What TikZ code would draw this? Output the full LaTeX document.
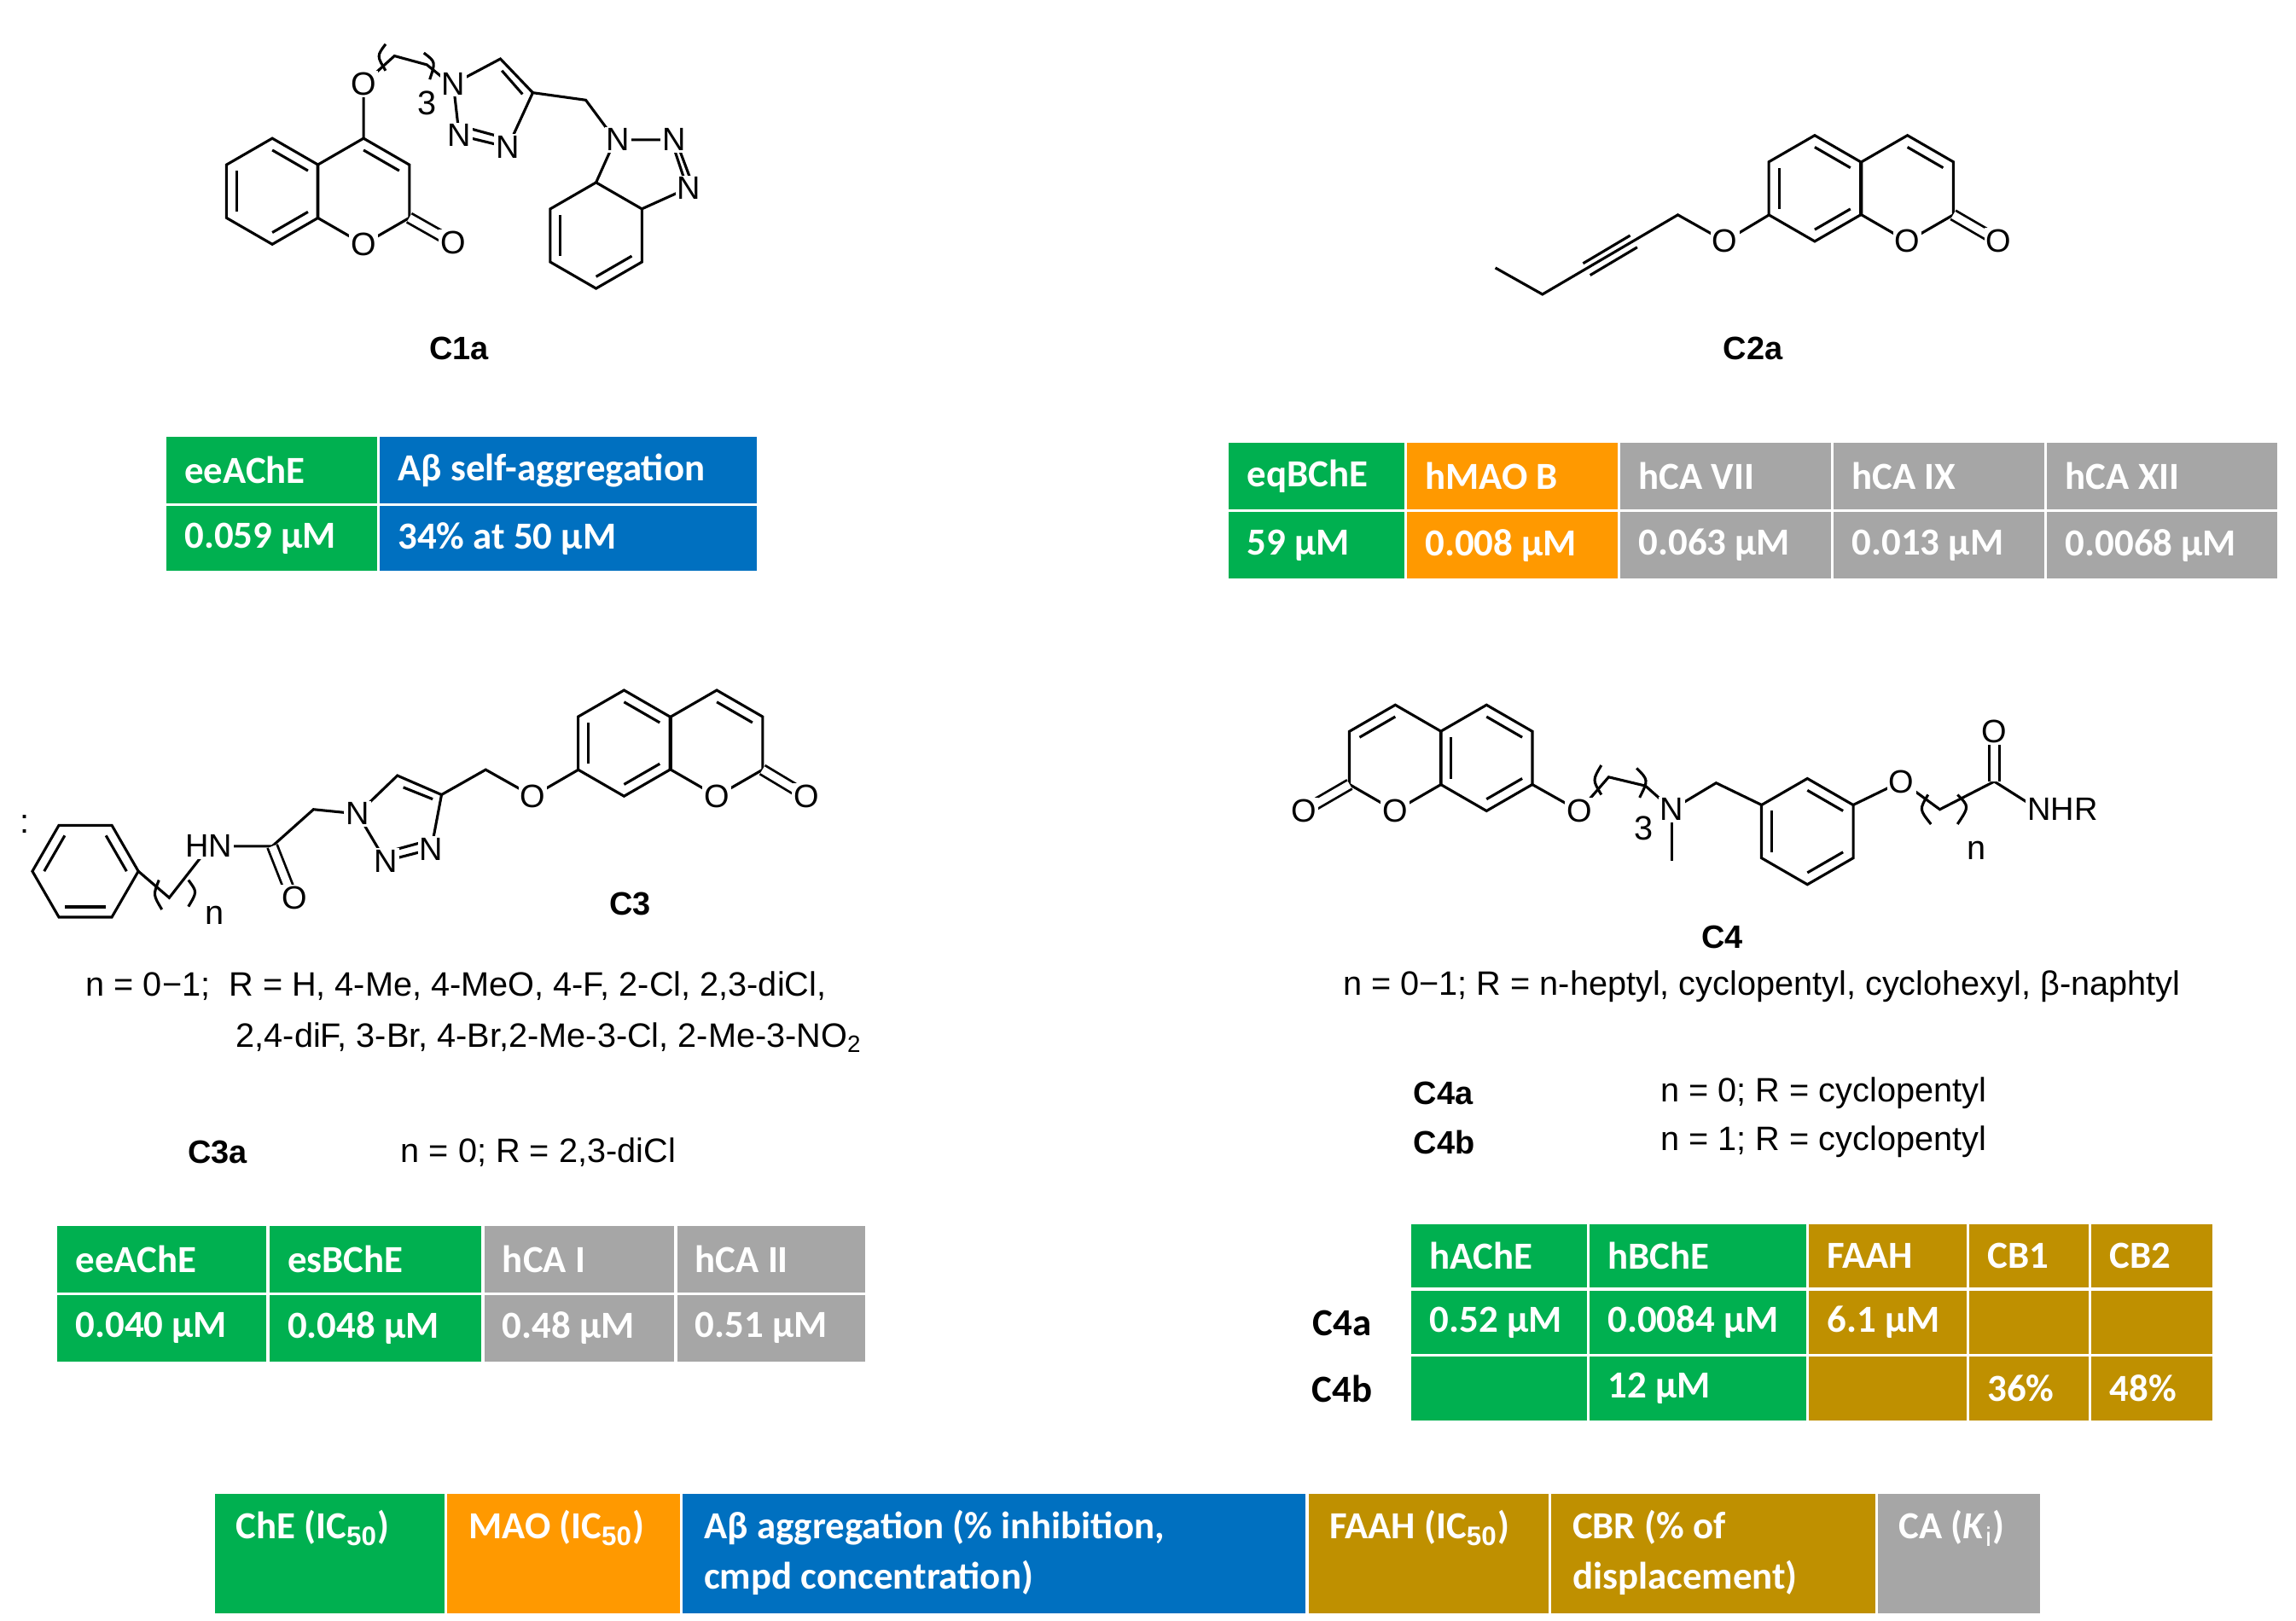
\documentclass[tikz,border=0pt]{standalone}
\usepackage{fontspec}
\setmainfont{Liberation Sans}
\newfontfamily\tabfont{Carlito}
\usetikzlibrary{calc}
\definecolor{cgreen}{RGB}{0,176,80}
\definecolor{corange}{RGB}{255,153,0}
\definecolor{cblue}{RGB}{0,112,192}
\definecolor{cgold}{RGB}{191,144,0}
\definecolor{cgray}{RGB}{166,166,166}
\newcommand\hexr[3]{\draw[bond] (#1,#2) +(#3:36) -- +(#3+60:36) -- +(#3+120:36) -- +(#3+180:36) -- +(#3+240:36) -- +(#3+300:36) -- cycle;}
\newcommand\inb[3]{\draw[bond] (#1,#2) +(#3:28) -- +(#3+60:28);}
\newcommand\cellx[6]{\fill[#5] (#1+1,#2+1) rectangle (#3-1,#4-1); \node[celltxt] at (#1+13,{(#2+#4)/2}) {#6};}
\begin{document}
\begin{tikzpicture}[x=0.5pt,y=-0.5pt,
  bond/.style={line width=0.9pt},
  dbond/.style={line width=0.8pt,double,double distance=2.6pt},
  lab/.style={fill=white,inner sep=0.6pt,font=\fontsize{11}{12}\selectfont},
  txt/.style={font=\fontsize{11.5}{13}\selectfont,inner sep=0pt},
  cmp/.style={font=\fontsize{11}{13}\selectfont\bfseries,inner sep=0pt},
  celltxt/.style={anchor=west,text=white,font=\tabfont\bfseries\fontsize{13}{15}\selectfont,inner sep=0pt}]
\useasboundingbox (0,0) rectangle (1560,1101);
% ---------- C1a ----------
\hexr{185}{130}{30}\hexr{247}{130}{30}
\inb{185}{130}{150}\inb{185}{130}{270}\inb{185}{130}{30}\inb{247}{130}{270}
\draw[dbond] (278,148) -- (308,165);
\draw[bond] (247,94) -- (247,57) -- (268,38) -- (290,44) -- (306,57);
\draw[bond] (262,30) .. controls (256,38) .. (262,48);
\draw[bond] (288,36) .. controls (296,42) .. (292,54);
\node[txt] at (290,70) {3};
\draw[bond] (308,57) -- (340,40) -- (362,63) -- (345,100) -- (312,92) -- cycle;
\draw[bond] (341,48) -- (355,64);
\draw[bond] (318,87) -- (340,93);
\draw[bond] (362,63) -- (398,68) -- (418,95);
\hexr{405}{160}{30}
\inb{405}{160}{150}\inb{405}{160}{30}
\draw[bond] (405,124) -- (418,95) -- (456,95) -- (467,128) -- (436,142);
\draw[bond] (461,100) -- (470,124);
\node[lab] (c1o1) at (247,57) {O};
\node[lab] (c1o2) at (247,166) {O};
\node[lab] (c1o3) at (308,165) {O};
\node[lab] (c1n1) at (308,57) {N};
\node[lab] (c1n2) at (312,92) {N};
\node[lab] (c1n3) at (345,100) {N};
\node[lab] (c1n4) at (420,95) {N};
\node[lab] (c1n5) at (458,95) {N};
\node[lab] (c1n6) at (468,128) {N};
\node[cmp] (c1a) at (312,237) {C1a};
% ---------- C2a ----------
\hexr{1233}{128}{30}\hexr{1296}{128}{30}
\inb{1233}{128}{150}\inb{1233}{128}{270}\inb{1233}{128}{30}\inb{1296}{128}{270}
\draw[dbond] (1327,146) -- (1358,164);
\draw[bond] (1202,146) -- (1172,164) -- (1140,146) -- (1048,200) -- (1016,182);
\draw[bond] ($(1110,164)+(-2.4,-4)$) -- ($(1078,183)+(-2.4,-4)$);
\draw[bond] ($(1110,164)+(2.4,4)$) -- ($(1078,183)+(2.4,4)$);
\node[lab] (c2o1) at (1172,164) {O};
\node[lab] (c2o2) at (1296,164) {O};
\node[lab] (c2o3) at (1358,164) {O};
\node[cmp] (c2a) at (1191,237) {C2a};
% ---------- C3 ----------
\hexr{424}{505}{30}\hexr{487}{505}{30}
\inb{424}{505}{150}\inb{424}{505}{270}\inb{424}{505}{30}\inb{487}{505}{270}
\draw[dbond] (518,523) -- (548,541);
\draw[bond] (393,523) -- (362,541) -- (330,523) -- (300,540);
\draw[bond] (243,553) -- (270,527) -- (300,540) -- (293,577) -- (262,585) -- cycle;
\draw[bond] (274,535) -- (294,543);
\draw[bond] (266,578) -- (288,572);
\draw[bond] (243,553) -- (213,550) -- (185,575) -- (150,575);
\draw[dbond] (185,575) -- (198,608);
\hexr{58}{592}{0}
\inb{58}{592}{60}\inb{58}{592}{180}\inb{58}{592}{300}
\draw[bond] (94,592) -- (115,610) -- (140,578);
\draw[bond] (108,598) .. controls (104,608) .. (110,618);
\draw[bond] (128,598) .. controls (134,606) .. (128,616);
\node[txt] at (146,622) {n};
\node[txt] at (17,560) {:};
\node[lab] (c3hn) at (142,575) {HN};
\node[lab] (c3o0) at (200,610) {O};
\node[lab] (c3n1) at (243,553) {N};
\node[lab] (c3n2) at (262,585) {N};
\node[lab] (c3n3) at (293,577) {N};
\node[lab] (c3o1) at (362,541) {O};
\node[lab] (c3o2) at (487,541) {O};
\node[lab] (c3o3) at (548,541) {O};
\node[cmp] (c3) at (428,614) {C3};
\node[txt,anchor=west] at (58,670) {n = 0\textminus1;\; R = H, 4-Me, 4-MeO, 4-F, 2-Cl, 2,3-diCl,};
\node[txt,anchor=west] at (160,705) {2,4-diF, 3-Br, 4-Br,2-Me-3-Cl, 2-Me-3-NO\textsubscript{2}};
\node[cmp] (c3a) at (148,783) {C3a};
\node[txt,anchor=west] at (272,783) {n = 0; R = 2,3-diCl};
% ---------- C4 ----------
\hexr{948}{515}{30}\hexr{1010}{515}{30}
\inb{948}{515}{210}\inb{1010}{515}{270}\inb{1010}{515}{30}\inb{1010}{515}{150}
\draw[dbond] (917,533) -- (886,551);
\draw[bond] (1041,533) -- (1073,551) -- (1093,528) -- (1118,534) -- (1136,550);
\draw[bond] (1088,520) .. controls (1082,530) .. (1088,540);
\draw[bond] (1112,522) .. controls (1120,530) .. (1114,542);
\node[txt] at (1117,563) {3};
\draw[bond] (1136,550) -- (1136,585);
\draw[bond] (1136,550) -- (1166,532) -- (1197,547);
\hexr{1228}{565}{30}
\inb{1228}{565}{150}\inb{1228}{565}{270}\inb{1228}{565}{30}
\draw[bond] (1259,547) -- (1292,531) -- (1318,550) -- (1355,531) -- (1385,550);
\draw[bond] (1310,540) .. controls (1304,550) .. (1312,560);
\draw[bond] (1330,540) .. controls (1338,548) .. (1330,560);
\draw[dbond] (1355,531) -- (1355,497);
\node[txt] at (1343,578) {n};
\node[lab] (c4o1) at (886,551) {O};
\node[lab] (c4o2) at (948,551) {O};
\node[lab] (c4o3) at (1073,551) {O};
\node[lab] (c4n) at (1136,550) {N};
\node[lab] (c4o4) at (1292,531) {O};
\node[lab] (c4o5) at (1355,497) {O};
\node[lab,anchor=west] (c4nhr) at (1376,550) {NHR};
\node[cmp] (c4) at (1170,637) {C4};
\node[txt] at (1197,670) {n = 0\textminus1; R = n-heptyl, cyclopentyl, cyclohexyl, β-naphtyl};
\node[cmp,anchor=west] (c4a) at (960,743) {C4a};
\node[txt,anchor=west] at (1128,743) {n = 0; R = cyclopentyl};
\node[cmp,anchor=west] (c4b) at (960,776) {C4b};
\node[txt,anchor=west] at (1128,776) {n = 1; R = cyclopentyl};
% ---------- tables ----------
\cellx{112}{296}{257}{343}{cgreen}{eeAChE}
\cellx{257}{296}{515}{343}{cblue}{Aβ self-aggregation}
\cellx{112}{343}{257}{389}{cgreen}{0.059 µM}
\cellx{257}{343}{515}{389}{cblue}{34\% at 50 µM}
\cellx{834}{300}{955}{347}{cgreen}{eqBChE}
\cellx{955}{300}{1100}{347}{corange}{hMAO B}
\cellx{1100}{300}{1245}{347}{cgray}{hCA VII}
\cellx{1245}{300}{1390}{347}{cgray}{hCA IX}
\cellx{1390}{300}{1548}{347}{cgray}{hCA XII}
\cellx{834}{347}{955}{394}{cgreen}{59 µM}
\cellx{955}{347}{1100}{394}{corange}{0.008 µM}
\cellx{1100}{347}{1245}{394}{cgray}{0.063 µM}
\cellx{1245}{347}{1390}{394}{cgray}{0.013 µM}
\cellx{1390}{347}{1548}{394}{cgray}{0.0068 µM}
\cellx{38}{832}{182}{879}{cgreen}{eeAChE}
\cellx{182}{832}{328}{879}{cgreen}{esBChE}
\cellx{328}{832}{459}{879}{cgray}{hCA I}
\cellx{459}{832}{589}{879}{cgray}{hCA II}
\cellx{38}{879}{182}{926}{cgreen}{0.040 µM}
\cellx{182}{879}{328}{926}{cgreen}{0.048 µM}
\cellx{328}{879}{459}{926}{cgray}{0.48 µM}
\cellx{459}{879}{589}{926}{cgray}{0.51 µM}
\cellx{958}{831}{1079}{876}{cgreen}{hAChE}
\cellx{1079}{831}{1228}{876}{cgreen}{hBChE}
\cellx{1228}{831}{1337}{876}{cgold}{FAAH}
\cellx{1337}{831}{1420}{876}{cgold}{CB1}
\cellx{1420}{831}{1504}{876}{cgold}{CB2}
\cellx{958}{876}{1079}{921}{cgreen}{0.52 µM}
\cellx{1079}{876}{1228}{921}{cgreen}{0.0084 µM}
\cellx{1228}{876}{1337}{921}{cgold}{6.1 µM}
\cellx{1337}{876}{1420}{921}{cgold}{}
\cellx{1420}{876}{1504}{921}{cgold}{}
\cellx{958}{921}{1079}{966}{cgreen}{}
\cellx{1079}{921}{1228}{966}{cgreen}{12 µM}
\cellx{1228}{921}{1337}{966}{cgold}{}
\cellx{1337}{921}{1420}{966}{cgold}{36\%}
\cellx{1420}{921}{1504}{966}{cgold}{48\%}
\node[cmp,font=\tabfont\bfseries\fontsize{13}{15}\selectfont] (r4a) at (912,899) {C4a};
\node[cmp,font=\tabfont\bfseries\fontsize{13}{15}\selectfont] (r4b) at (912,944) {C4b};
% ---------- legend ----------
\fill[cgreen] (146,1015) rectangle (302,1096);
\fill[corange] (304,1015) rectangle (462,1096);
\fill[cblue] (464,1015) rectangle (887,1096);
\fill[cgold] (889,1015) rectangle (1052,1096);
\fill[cgold] (1054,1015) rectangle (1274,1096);
\fill[cgray] (1276,1015) rectangle (1386,1096);
\tikzset{legt/.style={anchor=north west,text=white,font=\tabfont\bfseries\fontsize{13}{17}\selectfont,inner sep=0pt,align=left}}
\node[legt] (l1) at (160,1026) {ChE (IC$_{\mathbf{50}}$)};
\node[legt] (l2) at (318,1026) {MAO (IC$_{\mathbf{50}}$)};
\node[legt] (l3) at (478,1026) {Aβ aggregation (\% inhibition,\\cmpd concentration)};
\node[legt] (l4) at (903,1026) {FAAH (IC$_{\mathbf{50}}$)};
\node[legt] (l5) at (1068,1026) {CBR (\% of\\displacement)};
\node[legt] (l6) at (1290,1026) {CA (\textit{K}$_{\mathrm{i}}$)};
\end{tikzpicture}
\end{document}
